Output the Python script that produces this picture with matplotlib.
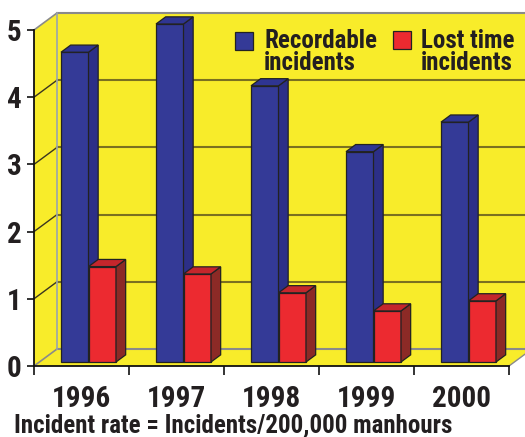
import matplotlib
matplotlib.use("Agg")
import matplotlib.pyplot as plt
from matplotlib.patches import Polygon, Rectangle

# ---- data ----
years = ["1996", "1997", "1998", "1999", "2000"]
recordable = [4.61, 5.03, 4.11, 3.13, 3.57]
lost_time = [1.42, 1.31, 1.03, 0.76, 0.91]
y_ticks = [0, 1, 2, 3, 4, 5]
series_names = ["Recordable\nincidents", "Lost time\nincidents"]
caption = "Incident rate = Incidents/200,000 manhours"

# ---- style ----
FONT = ["Roboto Condensed", "DejaVu Sans"]
YELLOW = "#F8EC2A"
TEXT = "#231F20"
BLUE = ("#343A97", "#2C2F87", "#2F3592")   # front, side, top
RED = ("#EC2A30", "#8C2A26", "#C4262C")

W, H = 525, 437
fig = plt.figure(figsize=(W / 100, H / 100), dpi=100)
fig.patch.set_facecolor("white")

x0p, x1p, y0p, y1p = 34, 509, 366, 30
ax = fig.add_axes([x0p / W, 1 - y0p / H, (x1p - x0p) / W, (y0p - y1p) / H])
n = len(years)
ymax = y_ticks[-1]
ax.set_xlim(0, n)
ax.set_ylim(0, ymax)
ax.patch.set_visible(False)

pxx = (x1p - x0p) / n
pxy = (y0p - y1p) / ymax
DX = 23 / pxx
DY = 17 / pxy

# walls
left_wall = Polygon([(0, 0), (0, ymax), (DX, ymax + DY), (DX, DY)], closed=True,
                    fc=YELLOW, ec="none", zorder=0, clip_on=False)
back_wall = Polygon([(DX, DY), (DX, ymax + DY), (n + DX + 0.2, ymax + DY), (n + DX + 0.2, DY)],
                    closed=True, fc=YELLOW, ec="none", zorder=0, clip_on=False)
floor = Polygon([(0, 0), (n, 0), (n + DX, DY), (DX, DY)], closed=True,
                fc=YELLOW, ec="none", zorder=0, clip_on=False)
for p in (left_wall, back_wall, floor):
    ax.add_patch(p)

# gridlines
for t in y_ticks:
    if t == 0:
        ax.plot([0, DX], [0, DY], color="#8a8a8a", lw=1.2, zorder=1, clip_on=False)
        ax.plot([DX, n + DX + 0.2], [DY, DY], color="#8a8a8a", lw=1.5, zorder=1, clip_on=False)
    elif t == ymax:
        ax.plot([0, DX], [t, t + DY], color="#8a8a8a", lw=1.2, zorder=1, clip_on=False)
        ax.plot([DX, n + DX + 0.2], [t + DY, t + DY], color="#8a8a8a", lw=1.5, zorder=1, clip_on=False)
    else:
        ax.plot([0, DX], [t, t + DY], color="#3a3520", lw=1.0, zorder=1, clip_on=False)
        ax.plot([DX, n + DX + 0.2], [t + DY, t + DY], color="#7a7020", lw=1.5, zorder=1, clip_on=False)
ax.plot([DX, DX], [DY, ymax + DY], color="#9aa4ae", lw=1.2, zorder=1, clip_on=False)
ax.plot([n, n + DX], [0, DY], color="#8a8a8a", lw=1.0, zorder=1, clip_on=False)

# bars
fb = 0.235
bd = 0.42
off = 21.6 / pxx
bw = 27.5 / pxx
base = fb * DY


def bar3d(xs, vals, cols):
    bars = ax.bar(xs, vals, width=bw, bottom=base, align="edge", color=cols[0],
                  edgecolor="#222222", linewidth=0.9, zorder=3)
    for rect in bars:
        rect.set_clip_on(False)
        xa = rect.get_x()
        xb = xa + rect.get_width()
        yb = rect.get_y()
        yt = yb + rect.get_height()
        ddx, ddy = bd * DX, bd * DY
        side = Polygon([(xb, yb), (xb + ddx, yb + ddy), (xb + ddx, yt + ddy), (xb, yt)],
                       closed=True, fc=cols[1], ec="#222222", lw=0.9, zorder=3, clip_on=False)
        top = Polygon([(xa, yt), (xb, yt), (xb + ddx, yt + ddy), (xa + ddx, yt + ddy)],
                      closed=True, fc=cols[2], ec="#222222", lw=0.9, zorder=3, clip_on=False)
        ax.add_patch(side)
        ax.add_patch(top)


for i in range(n):
    xb_ = i + off + fb * DX
    bar3d([xb_], [recordable[i]], BLUE)
    bar3d([xb_ + bw], [lost_time[i]], RED)

# axes
for s in ("top", "right"):
    ax.spines[s].set_visible(False)
for s in ("left", "bottom"):
    ax.spines[s].set_color("#111111")
    ax.spines[s].set_linewidth(1.3)
    ax.spines[s].set_zorder(2)
ax.set_yticks(y_ticks)
ax.set_yticklabels([str(t) for t in y_ticks])
ax.tick_params(axis="y", direction="out", length=5.0, width=1.2, color="#111111",
               pad=4.0, labelsize=21, labelcolor=TEXT)
ax.set_xticks(range(n + 1))
ax.set_xticklabels([""] * (n + 1))
ax.tick_params(axis="x", which="major", direction="out", length=6.5, width=1.2, color="#111111")
ax.set_xticks([i + 0.5 for i in range(n)], minor=True)
ax.set_xticklabels(years, minor=True)
ax.tick_params(axis="x", which="minor", length=0, pad=14, labelsize=21, labelcolor=TEXT)
for lab in ax.get_xticklabels(minor=True) + ax.get_yticklabels():
    lab.set_family(FONT)
    lab.set_weight("bold")

# legend
def legend_item(xpx, ypx, col, label, tx):
    fig.patches.append(Rectangle((xpx / W, 1 - (ypx + 18) / H), 18 / W, 18 / H,
                                 transform=fig.transFigure, fc=col, ec="#222222", lw=0.9))
    fig.text(tx / W, 1 - 70 / H, label, family=FONT, weight="bold", fontsize=18,
             color=TEXT, ha="left", va="baseline", linespacing=0.92)


legend_item(235, 32, BLUE[0], series_names[0], 264)
legend_item(393, 31, RED[0], series_names[1], 421)

fig.text(14 / W, 1 - 432 / H, caption, family=FONT, weight="bold", fontsize=18,
         color=TEXT, ha="left", va="baseline")

fig.savefig("out.png", dpi=100)
